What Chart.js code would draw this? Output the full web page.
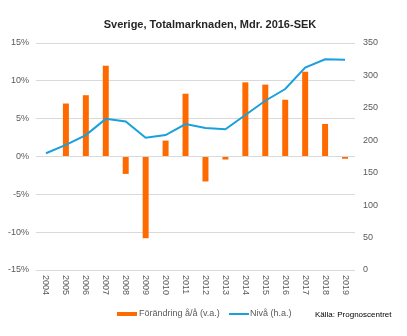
<!DOCTYPE html>
<html>
<head>
<meta charset="utf-8">
<script src="https://cdn.jsdelivr.net/npm/chart.js@4/dist/chart.umd.min.js"></script>
<style>
  body { margin: 0; background: #fff; }
</style>
</head>
<body>
<canvas id="chart" width="407" height="336"></canvas>
<script>
// Data
const years = ["2004", "2005", "2006", "2007", "2008", "2009", "2010", "2011",
               "2012", "2013", "2014", "2015", "2016", "2017", "2018", "2019"];
const changePct = [null, 7.0, 8.1, 12.0, -2.3, -10.8, 2.1, 8.3,
                   -3.3, -0.4, 9.8, 9.5, 7.5, 11.2, 4.3, -0.3];
const level = [180, 193, 208, 233, 229, 204, 208, 225,
               219, 217, 239, 261, 279, 312, 325, 324];
const leftTicks = [-15, -10, -5, 0, 5, 10, 15];
const rightTicks = [0, 50, 100, 150, 200, 250, 300, 350];

const ORANGE = "#ff6a00";
const BLUE = "#1aa0dc";
const FONT = "'Liberation Sans', Arial, sans-serif";

// Title, rotated year labels, legend and source note
const extras = {
  id: "extras",
  afterDraw(chart) {
    const c = chart.ctx;
    const x = chart.scales.x;
    c.save();

    c.fillStyle = "#262626";
    c.font = "bold 11px " + FONT;
    c.textAlign = "center";
    c.textBaseline = "middle";
    c.fillText("Sverige, Totalmarknaden, Mdr. 2016-SEK", 210, 25);

    c.fillStyle = "#595959";
    c.font = "9px " + FONT;
    c.textAlign = "left";
    years.forEach((y, i) => {
      c.save();
      c.translate(x.getPixelForTick(i), 275);
      c.rotate(Math.PI / 2);
      c.fillText(y, 0, 0);
      c.restore();
    });

    const ly = 314;
    c.fillStyle = ORANGE;
    c.fillRect(117, ly - 2, 20, 4);
    c.fillStyle = "#595959";
    c.fillText("Förändring å/å (v.a.)", 139, ly);
    c.strokeStyle = BLUE;
    c.lineWidth = 2;
    c.beginPath();
    c.moveTo(229, ly);
    c.lineTo(249, ly);
    c.stroke();
    c.fillText("Nivå (h.a.)", 250, ly);

    c.fillStyle = "#000";
    c.font = "8px " + FONT;
    c.fillText("Källa: Prognoscentret", 315, 315);
    c.restore();
  }
};

new Chart(document.getElementById("chart"), {
  data: {
    labels: years,
    datasets: [
      {
        type: "line",
        label: "Nivå (h.a.)",
        data: level,
        yAxisID: "y2",
        borderColor: BLUE,
        borderWidth: 2,
        pointRadius: 0,
        tension: 0,
        order: 0
      },
      {
        type: "bar",
        label: "Förändring å/å (v.a.)",
        data: changePct,
        yAxisID: "y",
        backgroundColor: ORANGE,
        barPercentage: 0.3,
        categoryPercentage: 1,
        order: 1
      }
    ]
  },
  options: {
    responsive: false,
    animation: false,
    layout: { padding: { left: 0, right: 0, top: 43, bottom: 66 } },
    plugins: {
      legend: { display: false },
      title: { display: false },
      tooltip: { enabled: false }
    },
    scales: {
      x: {
        offset: true,
        grid: { display: false },
        border: { display: false },
        ticks: { display: false },
        afterFit: (s) => { s.height = 0; }
      },
      y: {
        position: "left",
        min: -15,
        max: 15,
        afterBuildTicks: (s) => { s.ticks = leftTicks.map(v => ({ value: v })); },
        grid: { color: "#d9d9d9", drawTicks: false },
        border: { display: false },
        ticks: {
          padding: 7,
          color: "#595959",
          font: { family: FONT, size: 9 },
          callback: (v) => v + "%"
        },
        afterFit: (s) => { s.width = 36; }
      },
      y2: {
        position: "right",
        min: 0,
        max: 350,
        afterBuildTicks: (s) => { s.ticks = rightTicks.map(v => ({ value: v })); },
        grid: { display: false, drawTicks: false },
        border: { display: false },
        ticks: {
          padding: 8,
          color: "#595959",
          font: { family: FONT, size: 9 }
        },
        afterFit: (s) => { s.width = 52; }
      }
    }
  },
  plugins: [extras]
});
</script>
</body>
</html>
